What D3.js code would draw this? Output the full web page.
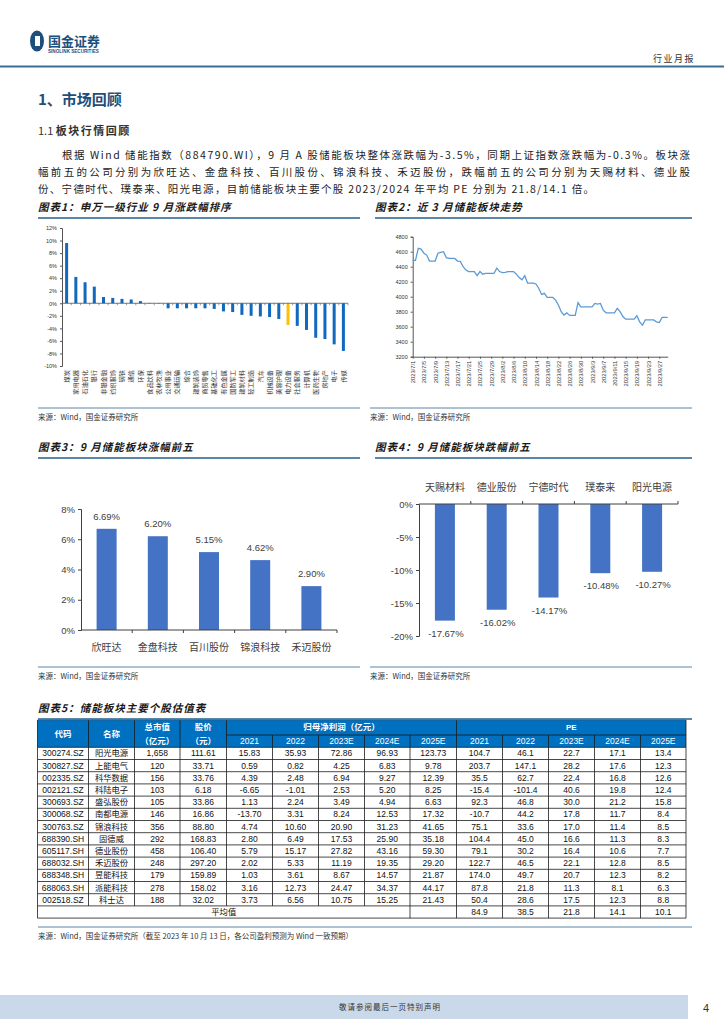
<!DOCTYPE html>
<html>
<head>
<meta charset="utf-8">
<script src="https://cdn.jsdelivr.net/npm/d3@7"></script>
<style>
  body { margin: 0; background: #fff; }
  svg { display: block; }
</style>
</head>
<body>
<svg id="svg" width="724" height="1024"></svg>
<script>
// ---- data ----
const industries = ["煤炭", "家用电器", "石油石化", "银行", "非银金融", "纺织服饰", "钢铁", "通信", "环保",
  "食品饮料", "农林牧渔", "公用事业", "交通运输", "综合", "建筑装饰", "商贸零售", "基础化工", "有色金属",
  "国防军工", "建筑材料", "轻工制造", "汽车", "机械设备", "美容护理", "电力设备", "社会服务", "计算机",
  "医药生物", "房地产", "电子", "传媒"];
const industryChange = [9.6, 4.2, 3.35, 2.65, 1.0, 0.85, 0.7, 0.6, 0.35, 0.05, -0.05, -0.8, -0.8, -0.8, -0.8,
  -0.8, -0.9, -1.3, -1.4, -1.85, -2.0, -2.1, -2.2, -2.5, -3.45, -3.6, -4.25, -5.5, -5.7, -6.55, -7.6];
const highlightIndustry = "电力设备";

const trendDates = ["2023-07-01", "2023-07-02", "2023-07-03", "2023-07-04", "2023-07-05", "2023-07-06", "2023-07-07",
  "2023-07-09", "2023-07-10", "2023-07-11", "2023-07-12", "2023-07-13", "2023-07-14", "2023-07-16", "2023-07-17",
  "2023-07-18", "2023-07-19", "2023-07-20", "2023-07-21", "2023-07-23", "2023-07-24", "2023-07-25", "2023-07-26",
  "2023-07-27", "2023-07-28", "2023-07-30", "2023-07-31", "2023-08-01", "2023-08-02", "2023-08-03", "2023-08-04",
  "2023-08-06", "2023-08-07", "2023-08-08", "2023-08-09", "2023-08-10", "2023-08-11", "2023-08-13", "2023-08-14",
  "2023-08-15", "2023-08-16", "2023-08-17", "2023-08-18", "2023-08-20", "2023-08-21", "2023-08-22", "2023-08-23",
  "2023-08-24", "2023-08-25", "2023-08-26", "2023-08-27", "2023-08-28", "2023-08-29", "2023-08-30", "2023-08-31",
  "2023-09-01", "2023-09-03", "2023-09-04", "2023-09-05", "2023-09-06", "2023-09-07", "2023-09-08", "2023-09-10",
  "2023-09-11", "2023-09-12", "2023-09-13", "2023-09-14", "2023-09-15", "2023-09-17", "2023-09-18", "2023-09-19",
  "2023-09-20", "2023-09-21", "2023-09-22", "2023-09-24", "2023-09-25", "2023-09-26", "2023-09-27", "2023-09-28",
  "2023-09-30"];
const trendValues = [4485, 4485, 4645, 4635, 4580, 4555, 4475, 4475, 4580, 4590, 4600, 4520, 4510, 4510, 4475,
  4470, 4400, 4355, 4335, 4335, 4280, 4335, 4300, 4310, 4310, 4310, 4380, 4335, 4320, 4325, 4335,
  4335, 4300, 4255, 4225, 4280, 4180, 4180, 4170, 4110, 4030, 4045, 3990, 3990, 3955, 3890, 3800,
  3755, 3785, 3750, 3750, 3750, 3920, 3865, 3865, 3865, 3865, 3910, 3900, 3910, 3820, 3785, 3785,
  3785, 3845, 3800, 3735, 3700, 3700, 3700, 3745, 3665, 3620, 3690, 3690, 3690, 3665, 3655, 3725,
  3725];
const trendTicks = [3200, 3400, 3600, 3800, 4000, 4200, 4400, 4600, 4800];

const gainNames = ["欣旺达", "金盘科技", "百川股份", "锦浪科技", "禾迈股份"];
const gainValues = [6.69, 6.20, 5.15, 4.62, 2.90];
const lossNames = ["天赐材料", "德业股份", "宁德时代", "璞泰来", "阳光电源"];
const lossValues = [-17.67, -16.02, -14.17, -10.48, -10.27];

const yearLabels = ["2021", "2022", "2023E", "2024E", "2025E"];
const stockCodes = ["300274.SZ", "300827.SZ", "002335.SZ", "002121.SZ", "300693.SZ", "300068.SZ", "300763.SZ",
  "688390.SH", "605117.SH", "688032.SH", "688348.SH", "688063.SH", "002518.SZ"];
const stockNames = ["阳光电源", "上能电气", "科华数据", "科陆电子", "盛弘股份", "南都电源", "锦浪科技",
  "固德威", "德业股份", "禾迈股份", "昱能科技", "派能科技", "科士达"];
const marketCap = ["1,658", "120", "156", "103", "105", "146", "356", "292", "458", "248", "179", "278", "188"];
const sharePrice = ["111.61", "33.71", "33.76", "6.18", "33.86", "16.86", "88.80", "168.83", "106.40", "297.20",
  "159.89", "158.02", "32.02"];
const netProfit = [
  ["15.83", "35.93", "72.86", "96.93", "123.73"],
  ["0.59", "0.82", "4.25", "6.83", "9.78"],
  ["4.39", "2.48", "6.94", "9.27", "12.39"],
  ["-6.65", "-1.01", "2.53", "5.20", "8.25"],
  ["1.13", "2.24", "3.49", "4.94", "6.63"],
  ["-13.70", "3.31", "8.24", "12.53", "17.32"],
  ["4.74", "10.60", "20.90", "31.23", "41.65"],
  ["2.80", "6.49", "17.53", "25.90", "35.18"],
  ["5.79", "15.17", "27.82", "43.16", "59.30"],
  ["2.02", "5.33", "11.19", "19.35", "29.20"],
  ["1.03", "3.61", "8.67", "14.57", "21.87"],
  ["3.16", "12.73", "24.47", "34.37", "44.17"],
  ["3.73", "6.56", "10.75", "15.25", "21.43"]];
const peValues = [
  ["104.7", "46.1", "22.7", "17.1", "13.4"],
  ["203.7", "147.1", "28.2", "17.6", "12.3"],
  ["35.5", "62.7", "22.4", "16.8", "12.6"],
  ["-15.4", "-101.4", "40.6", "19.8", "12.4"],
  ["92.3", "46.8", "30.0", "21.2", "15.8"],
  ["-10.7", "44.2", "17.8", "11.7", "8.4"],
  ["75.1", "33.6", "17.0", "11.4", "8.5"],
  ["104.4", "45.0", "16.6", "11.3", "8.3"],
  ["79.1", "30.2", "16.4", "10.6", "7.7"],
  ["122.7", "46.5", "22.1", "12.8", "8.5"],
  ["174.0", "49.7", "20.7", "12.3", "8.2"],
  ["87.8", "21.8", "11.3", "8.1", "6.3"],
  ["50.4", "28.6", "17.5", "12.3", "8.8"]];
const peAverage = ["84.9", "38.5", "21.8", "14.1", "10.1"];

// ---- page ----
const svg = d3.select("#svg");
const CJK = "'Noto Sans CJK SC', 'Noto Sans', sans-serif";
const LAT = "'Liberation Sans', Arial, 'Noto Sans CJK SC', sans-serif";
const ruleColor = "#5a86a8";

svg.append("rect").attr("width", 724).attr("height", 1024).attr("fill", "#fff");

// header + logo
svg.append("ellipse").attr("cx", 37).attr("cy", 41).attr("rx", 7).attr("ry", 10.5).attr("fill", "#1d4f7c");
svg.append("rect").attr("x", 35).attr("y", 36).attr("width", 5).attr("height", 10).attr("fill", "#fff");
svg.append("text").attr("x", 48).attr("y", 46).attr("font-family", CJK).attr("font-weight", 700)
  .attr("font-size", 13).attr("fill", "#1d4f7c").text("国金证券");
svg.append("text").attr("x", 48).attr("y", 53).attr("font-family", LAT).attr("font-weight", 700)
  .attr("font-size", 4.6).attr("fill", "#1d4f7c").text("SINOLINK SECURITIES");
svg.append("text").attr("x", 695).attr("y", 62).attr("text-anchor", "end").attr("font-family", CJK)
  .attr("font-size", 9).attr("letter-spacing", 1.5).attr("fill", "#333").text("行业月报");
svg.append("line").attr("x1", 0).attr("x2", 724).attr("y1", 66.5).attr("y2", 66.5)
  .attr("stroke", "#3b6e95").attr("stroke-width", 1.8);

svg.append("text").attr("x", 38).attr("y", 105).attr("font-family", CJK).attr("font-weight", 700)
  .attr("font-size", 15).attr("fill", "#1f4e79").text("1、市场回顾");
const sub = svg.append("text").attr("x", 38).attr("y", 135).attr("font-family", CJK)
  .attr("font-size", 11).attr("fill", "#333");
sub.append("tspan").text("1.1 ");
sub.append("tspan").attr("font-weight", 700).attr("letter-spacing", 1.5).text("板块行情回顾");

const para = [
  { x: 62, w: 628, t: "根据 Wind 储能指数（884790.WI），9 月 A 股储能板块整体涨跌幅为-3.5%，同期上证指数涨跌幅为-0.3%。板块涨" },
  { x: 38, w: 652, t: "幅前五的公司分别为欣旺达、金盘科技、百川股份、锦浪科技、禾迈股份，跌幅前五的公司分别为天赐材料、德业股" },
  { x: 38, w: 556, t: "份、宁德时代、璞泰来、阳光电源，目前储能板块主要个股 2023/2024 年平均 PE 分别为 21.8/14.1 倍。" }
];
para.forEach((p, i) => {
  svg.append("text").attr("x", p.x).attr("y", 159 + i * 17).attr("font-family", CJK)
    .attr("font-size", 10.5).attr("fill", "#222")
    .attr("textLength", p.w).attr("lengthAdjust", "spacing").text(p.t);
});

function chartTitle(x, y, x2, label) {
  svg.append("text").attr("x", x).attr("y", y).attr("font-family", CJK).attr("font-weight", 700)
    .attr("font-style", "italic").attr("font-size", 10.5).attr("fill", "#1a1a1a")
    .attr("letter-spacing", 1).text(label);
  svg.append("line").attr("x1", x).attr("x2", x2).attr("y1", y + 7).attr("y2", y + 7)
    .attr("stroke", ruleColor).attr("stroke-width", 2);
}
function chartSource(x, y, x2, label) {
  svg.append("line").attr("x1", x).attr("x2", x2).attr("y1", y).attr("y2", y)
    .attr("stroke", ruleColor).attr("stroke-width", 1);
  svg.append("text").attr("x", x).attr("y", y + 12).attr("font-family", CJK)
    .attr("font-size", 7.5).attr("fill", "#333").text(label);
}

// ---- chart 1 ----
chartTitle(38, 211, 360, "图表1：申万一级行业 9 月涨跌幅排序");
chartSource(38, 408, 360, "来源：Wind，国金证券研究所");
{
  const x = d3.scaleBand().domain(industries).range([62, 348]);
  const y = d3.scaleLinear().domain([-10, 12]).range([366, 228]);
  const g = svg.append("g");
  const ax = g.append("g").attr("transform", "translate(62,0)")
    .call(d3.axisLeft(y).tickValues(d3.range(-10, 13, 2)).tickSize(2).tickFormat(d => d + "%"));
  ax.selectAll("text").attr("font-family", LAT).attr("font-size", 5.5).attr("fill", "#333");
  ax.selectAll("line,path").attr("stroke", "#555");
  const bw = 3;
  g.selectAll("rect.bar").data(industries).join("rect")
    .attr("x", d => x(d) + (x.bandwidth() - bw) / 2)
    .attr("width", bw)
    .attr("y", (d, i) => y(Math.max(0, industryChange[i])))
    .attr("height", (d, i) => Math.abs(y(industryChange[i]) - y(0)))
    .attr("fill", d => d === highlightIndustry ? "#ffc000" : "#1168bd");
  g.append("line").attr("x1", 62).attr("x2", 348).attr("y1", y(0)).attr("y2", y(0)).attr("stroke", "#555").attr("stroke-width", 0.8);
  g.selectAll("line.tk").data(industries).join("line").attr("class", "tk")
    .attr("x1", d => x(d) + x.bandwidth()).attr("x2", d => x(d) + x.bandwidth())
    .attr("y1", y(0)).attr("y2", y(0) + 2).attr("stroke", "#555").attr("stroke-width", 0.6);
  g.selectAll("text.cat").data(industries).join("text").attr("class", "cat")
    .attr("transform", d => `translate(${x(d) + x.bandwidth() / 2},370) rotate(-90)`)
    .attr("text-anchor", "end").attr("dy", "0.35em")
    .attr("font-family", CJK).attr("font-size", 6.2).attr("fill", "#333").text(d => d);
}

// ---- chart 2 ----
chartTitle(375, 211, 692, "图表2：近 3 月储能板块走势");
chartSource(370, 408, 692, "来源：Wind，国金证券研究所");
{
  const parse = d3.timeParse("%Y-%m-%d");
  const pts = trendDates.map((d, i) => ({ date: parse(d), value: trendValues[i] }));
  const x = d3.scaleTime().domain([parse("2023-07-01"), parse("2023-09-30")]).range([412.7, 667.7]);
  const y = d3.scaleLinear().domain([3200, 4800]).range([356.7, 236.7]);
  const g = svg.append("g");
  const ay = g.append("g").attr("transform", "translate(412.7,0)")
    .call(d3.axisLeft(y).tickValues(trendTicks).tickSize(2).tickFormat(d3.format("d")));
  ay.selectAll("text").attr("font-family", LAT).attr("font-size", 5.5).attr("fill", "#333");
  ay.selectAll("line,path").attr("stroke", "#555");
  const tickDates = d3.timeDay.range(parse("2023-07-01"), parse("2023-09-30"), 1).filter((d, i) => i % 4 === 0);
  const axx = g.append("g").attr("transform", "translate(0,356.7)")
    .call(d3.axisBottom(x).tickValues(tickDates).tickSize(2).tickSizeOuter(0).tickFormat(d3.timeFormat("%Y/%-m/%-d")));
  axx.selectAll("line,path").attr("stroke", "#555");
  axx.selectAll("text").attr("font-family", LAT).attr("font-size", 5.8).attr("fill", "#333")
    .attr("transform", "rotate(-90)").attr("text-anchor", "end").attr("x", -4).attr("y", 0).attr("dy", "0.35em");
  g.append("path").datum(pts)
    .attr("d", d3.line().x(d => x(d.date)).y(d => y(d.value)))
    .attr("fill", "none").attr("stroke", "#5b9bd5").attr("stroke-width", 1.3);
}

// ---- chart 3 ----
chartTitle(38, 451, 360, "图表3：9 月储能板块涨幅前五");
chartSource(38, 667, 360, "来源：Wind，国金证券研究所");
{
  const x = d3.scaleBand().domain(gainNames).range([81, 337]);
  const y = d3.scaleLinear().domain([0, 8]).range([630, 509]);
  const g = svg.append("g");
  const ay = g.append("g").attr("transform", "translate(81,0)")
    .call(d3.axisLeft(y).tickValues([0, 2, 4, 6, 8]).tickSize(3).tickFormat(d => d + "%"));
  ay.selectAll("text").attr("font-family", LAT).attr("font-size", 9.5).attr("fill", "#404040");
  ay.selectAll("line,path").attr("stroke", "#404040");
  const bw = 20;
  g.selectAll("rect.bar").data(gainNames).join("rect")
    .attr("x", d => x(d) + (x.bandwidth() - bw) / 2).attr("width", bw)
    .attr("y", (d, i) => y(gainValues[i])).attr("height", (d, i) => y(0) - y(gainValues[i]))
    .attr("fill", "#4472c4");
  g.append("line").attr("x1", 81).attr("x2", 337).attr("y1", y(0)).attr("y2", y(0)).attr("stroke", "#404040");
  g.selectAll("line.tk").data(gainNames).join("line")
    .attr("x1", d => x(d) + x.bandwidth()).attr("x2", d => x(d) + x.bandwidth())
    .attr("y1", y(0)).attr("y2", y(0) + 3).attr("stroke", "#404040");
  g.selectAll("text.val").data(gainNames).join("text")
    .attr("x", d => x(d) + x.bandwidth() / 2).attr("y", (d, i) => y(gainValues[i]) - 9)
    .attr("text-anchor", "middle").attr("font-family", LAT).attr("font-size", 9.5).attr("fill", "#404040")
    .text((d, i) => gainValues[i].toFixed(2) + "%");
  g.selectAll("text.cat").data(gainNames).join("text")
    .attr("x", d => x(d) + x.bandwidth() / 2).attr("y", 651)
    .attr("text-anchor", "middle").attr("font-family", CJK).attr("font-size", 10).attr("fill", "#404040")
    .text(d => d);
}

// ---- chart 4 ----
chartTitle(375, 451, 692, "图表4：9 月储能板块跌幅前五");
chartSource(370, 667, 692, "来源：Wind，国金证券研究所");
{
  const x = d3.scaleBand().domain(lossNames).range([419, 678]);
  const y = d3.scaleLinear().domain([-20, 0]).range([636, 504]);
  const g = svg.append("g");
  const ay = g.append("g").attr("transform", "translate(419,0)")
    .call(d3.axisLeft(y).tickValues([-20, -15, -10, -5, 0]).tickSize(3).tickFormat(d => d + "%"));
  ay.selectAll("text").attr("font-family", LAT).attr("font-size", 9.5).attr("fill", "#404040");
  ay.selectAll("line,path").attr("stroke", "#404040");
  const bw = 20;
  g.selectAll("rect.bar").data(lossNames).join("rect")
    .attr("x", d => x(d) + (x.bandwidth() - bw) / 2).attr("width", bw)
    .attr("y", y(0)).attr("height", (d, i) => y(lossValues[i]) - y(0))
    .attr("fill", "#4472c4");
  g.append("line").attr("x1", 419).attr("x2", 678).attr("y1", y(0)).attr("y2", y(0)).attr("stroke", "#404040");
  g.selectAll("line.tk").data(lossNames).join("line")
    .attr("x1", d => x(d) + x.bandwidth()).attr("x2", d => x(d) + x.bandwidth())
    .attr("y1", y(0)).attr("y2", y(0) - 3).attr("stroke", "#404040");
  g.selectAll("text.val").data(lossNames).join("text")
    .attr("x", d => x(d) + x.bandwidth() / 2 + 1).attr("y", (d, i) => y(lossValues[i]) + 16)
    .attr("text-anchor", "middle").attr("font-family", LAT).attr("font-size", 9.5).attr("fill", "#404040")
    .text((d, i) => lossValues[i].toFixed(2) + "%");
  g.selectAll("text.cat").data(lossNames).join("text")
    .attr("x", d => x(d) + x.bandwidth() / 2).attr("y", 491)
    .attr("text-anchor", "middle").attr("font-family", CJK).attr("font-size", 10).attr("fill", "#404040")
    .text(d => d);
}

// ---- table ----
chartTitle(38, 712, 692, "图表5：储能板块主要个股估值表");
chartSource(38, 927, 692, "来源：Wind，国金证券研究所（截至 2023 年 10 月 13 日，各公司盈利预测为 Wind 一致预期）");
{
  const cols = [37.5, 88.5, 134.5, 180, 226.5, 272.5, 318.5, 364.5, 410, 456.5, 502.5, 548.5, 594.5, 640.5, 686];
  const top = 720, mid = 735, body = 747.3, rh = 12.2;
  const g = svg.append("g");
  const line = (x1, y1, x2, y2, c) => g.append("line").attr("x1", x1).attr("y1", y1).attr("x2", x2).attr("y2", y2)
    .attr("stroke", c || "#1a1a1a").attr("stroke-width", 0.8);
  const cell = (x1, x2, yc, t, opt) => g.append("text").attr("x", (x1 + x2) / 2).attr("y", yc).attr("dy", "0.35em")
    .attr("text-anchor", "middle").attr("font-family", opt && opt.cjk ? CJK : LAT)
    .attr("font-size", (opt && opt.size) || 8.5).attr("font-weight", (opt && opt.bold) ? 700 : 400)
    .attr("fill", (opt && opt.fill) || "#111").text(t);

  g.append("rect").attr("x", cols[0]).attr("y", top).attr("width", cols[14] - cols[0]).attr("height", body - top).attr("fill", "#0070c0");
  const hw = { fill: "#fff", bold: true, cjk: true, size: 8.5 };
  cell(cols[0], cols[1], (top + body) / 2, "代码", hw);
  cell(cols[1], cols[2], (top + body) / 2, "名称", hw);
  cell(cols[2], cols[3], (top + mid) / 2, "总市值", hw);
  cell(cols[2], cols[3], (mid + body) / 2, "（亿元）", hw);
  cell(cols[3], cols[4], (top + mid) / 2, "股价", hw);
  cell(cols[3], cols[4], (mid + body) / 2, "（元）", hw);
  cell(cols[4], cols[9], (top + mid) / 2, "归母净利润（亿元）", hw);
  cell(cols[9], cols[14], (top + mid) / 2, "PE", { fill: "#fff", bold: true, size: 8 });
  yearLabels.forEach((yl, i) => {
    cell(cols[4 + i], cols[5 + i], (mid + body) / 2, yl, { fill: "#fff", size: 8.5 });
    cell(cols[9 + i], cols[10 + i], (mid + body) / 2, yl, { fill: "#fff", size: 8.5 });
  });
  // header grid
  [0, 1, 2, 3, 4, 9, 14].forEach(c => line(cols[c], top, cols[c], body));
  [5, 6, 7, 8, 10, 11, 12, 13].forEach(c => line(cols[c], mid, cols[c], body));
  line(cols[4], mid, cols[14], mid);
  line(cols[0], top, cols[14], top, "#2a5d85");

  // body rows
  stockCodes.forEach((code, r) => {
    const yc = body + rh * r + rh / 2;
    const rowVals = [code, stockNames[r], marketCap[r], sharePrice[r]].concat(netProfit[r], peValues[r]);
    rowVals.forEach((v, c) => cell(cols[c], cols[c + 1], yc, v, c === 1 ? { cjk: true, size: 8.3 } : null));
  });
  const avgTop = body + rh * stockCodes.length;
  const bottom = avgTop + rh;
  cell(cols[0], cols[8], avgTop + rh / 2, "平均值", { cjk: true, size: 8.3 });
  peAverage.forEach((v, i) => cell(cols[9 + i], cols[10 + i], avgTop + rh / 2, v));
  // body grid
  d3.range(stockCodes.length + 2).forEach(i => line(cols[0], body + rh * i, cols[14], body + rh * i));
  cols.forEach((cx, c) => line(cx, body, cx, avgTop));
  [0, 8, 9, 10, 11, 12, 13, 14].forEach(c => line(cols[c], avgTop, cols[c], bottom));
}

// ---- footer ----
svg.append("rect").attr("x", 0).attr("y", 995).attr("width", 688).attr("height", 24).attr("fill", "#c9d9ea");
svg.append("text").attr("x", 390).attr("y", 1010).attr("text-anchor", "middle").attr("font-family", CJK)
  .attr("font-size", 7.5).attr("letter-spacing", 1).attr("fill", "#333").text("敬请参阅最后一页特别声明");
svg.append("text").attr("x", 706).attr("y", 1012).attr("text-anchor", "middle").attr("font-family", LAT)
  .attr("font-size", 11).attr("fill", "#333").text("4");
</script>
</body>
</html>
